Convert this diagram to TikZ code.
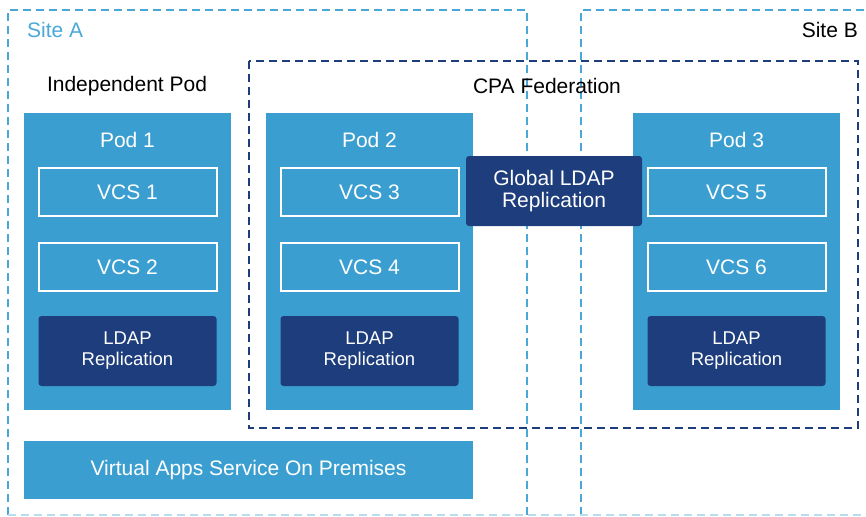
\documentclass[tikz,border=0pt]{standalone}
\usepackage{fontspec}
\setmainfont{Liberation Sans}
\definecolor{podblue}{HTML}{3A9FD0}
\definecolor{darkblue}{HTML}{1E3D7C}
\definecolor{sitedash}{HTML}{4AA8D8}
\begin{document}
\begin{tikzpicture}[x=1pt,y=-1pt,
  site/.style={draw=sitedash,line width=1.3pt,dash pattern=on 8pt off 5pt},
  fed/.style={draw=darkblue,line width=1.3pt,dash pattern=on 8pt off 5pt},
  pod/.style={fill=podblue,draw=none},
  vcs/.style={draw=white,line width=2pt,fill=podblue,text=white,font=\fontsize{21}{24}\selectfont},
  ldap/.style={fill=darkblue,draw=none,rounded corners=3pt,text=white,align=center,font=\fontsize{18.5}{22}\selectfont},
  lbl/.style={font=\fontsize{21}{24}\selectfont,inner sep=0pt},
  podlbl/.style={font=\fontsize{21}{24}\selectfont,text=white,inner sep=0pt}]
\useasboundingbox (0,0) rectangle (866,516);
% sites
\draw[site] (8,515) -- (8,10) -- (527,10) -- (527,515);
\draw[site] (581,515) -- (581,10) -- (870,10);
\draw[sitedash!40,line width=1.3pt,dash pattern=on 8pt off 5pt] (8,515) -- (870,515);
\node[lbl,text=sitedash,anchor=west] (siteA) at (27,30) {Site A};
\node[lbl,anchor=east] (siteB) at (858,30) {Site B};
% federation
\draw[fed] (249,61) rectangle (858,428);
\node[lbl] (fedlbl) at (547,86) {CPA Federation};
\node[lbl] (indlbl) at (127,86) {Independent Pod};
% pods
\foreach \n/\x/\a/\b in {1/24/1/2,2/266/3/4,3/633/5/6}{
  \fill[pod] (\x,113) rectangle ++(207,297);
  \node[podlbl] (pod\n) at (\x+103.5,140) {Pod \n};
  \node[vcs,minimum width=178pt,minimum height=48pt] (vcs\a) at (\x+103.5,192) {VCS \a};
  \node[vcs,minimum width=178pt,minimum height=48pt] (vcs\b) at (\x+103.5,267) {VCS \b};
  \node[ldap,minimum width=178pt,minimum height=70pt] (ldap\n) at (\x+103.5,351) {LDAP\\[-1pt]Replication};
}
\node[ldap,minimum width=176pt,minimum height=70pt,font=\fontsize{21}{23}\selectfont] (global) at (554,191) {Global LDAP\\[-1pt]Replication};
\node[pod,text=white,minimum width=449pt,minimum height=58pt,font=\fontsize{21}{24}\selectfont] (vas) at (248.5,470) {Virtual Apps Service On Premises};
\end{tikzpicture}
\end{document}
